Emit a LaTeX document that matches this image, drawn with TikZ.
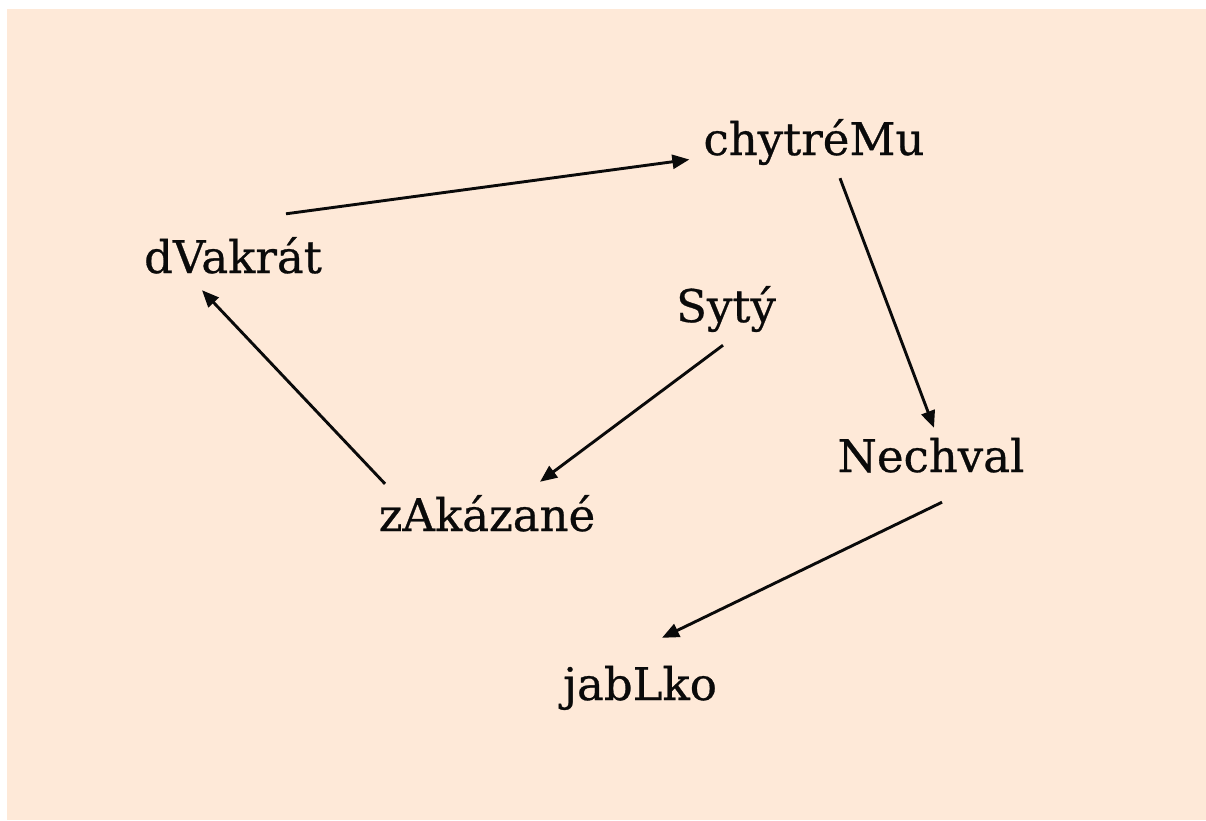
\documentclass[tikz,border=0pt]{standalone}
\usepackage{fontspec}
\setmainfont{DejaVu Serif}[FakeBold=0.6]
\usepackage{xcolor}
\usetikzlibrary{arrows.meta}
\definecolor{wordPeach}{RGB}{254, 233, 216}
\definecolor{wordInk}{RGB}{10, 10, 10}

\begin{document}
\begin{tikzpicture}[x=1pt, y=-1pt]
    \tikzstyle{word} = [anchor=base, inner sep=14pt, text height=30pt, text depth=9pt, text=wordInk, font=\fontsize{45}{52}\selectfont]
    \tikzstyle{link} = [-{Triangle[length=17pt, width=14pt]}, line width=2.9pt, draw=wordInk]
    \useasboundingbox (0,0) rectangle (1206,820);
    \fill[wordPeach] (7,9) rectangle (1206,820);
    \node[word] (chytremu) at (814,155) {chytréMu};
    \node[word] (dvakrat) at (233,273) {dVakrát};
    \node[word] (syty) at (726,322) {Sytý};
    \node[word] (nechval) at (931,472) {Nechval};
    \node[word] (zakazane) at (487,531) {zAkázané};
    \node[word] (jablko) at (640,700) {jabLko};
    \draw[link] ([xshift=53pt, yshift=15pt]dvakrat.north) -- ([yshift=-15pt]chytremu.west);
    \draw[link] ([xshift=26pt]chytremu.south) -- ([xshift=3pt]nechval.north);
    \draw[link] ([xshift=-3pt]syty.south) -- ([xshift=53pt, yshift=5pt]zakazane.north);
    \draw[link] ([xshift=-102pt, yshift=3pt]zakazane.north) -- ([xshift=-31pt, yshift=6pt]dvakrat.south);
    \draw[link] ([xshift=11pt, yshift=-7pt]nechval.south) -- ([xshift=22pt, yshift=18pt]jablko.north);
\end{tikzpicture}
\end{document}
